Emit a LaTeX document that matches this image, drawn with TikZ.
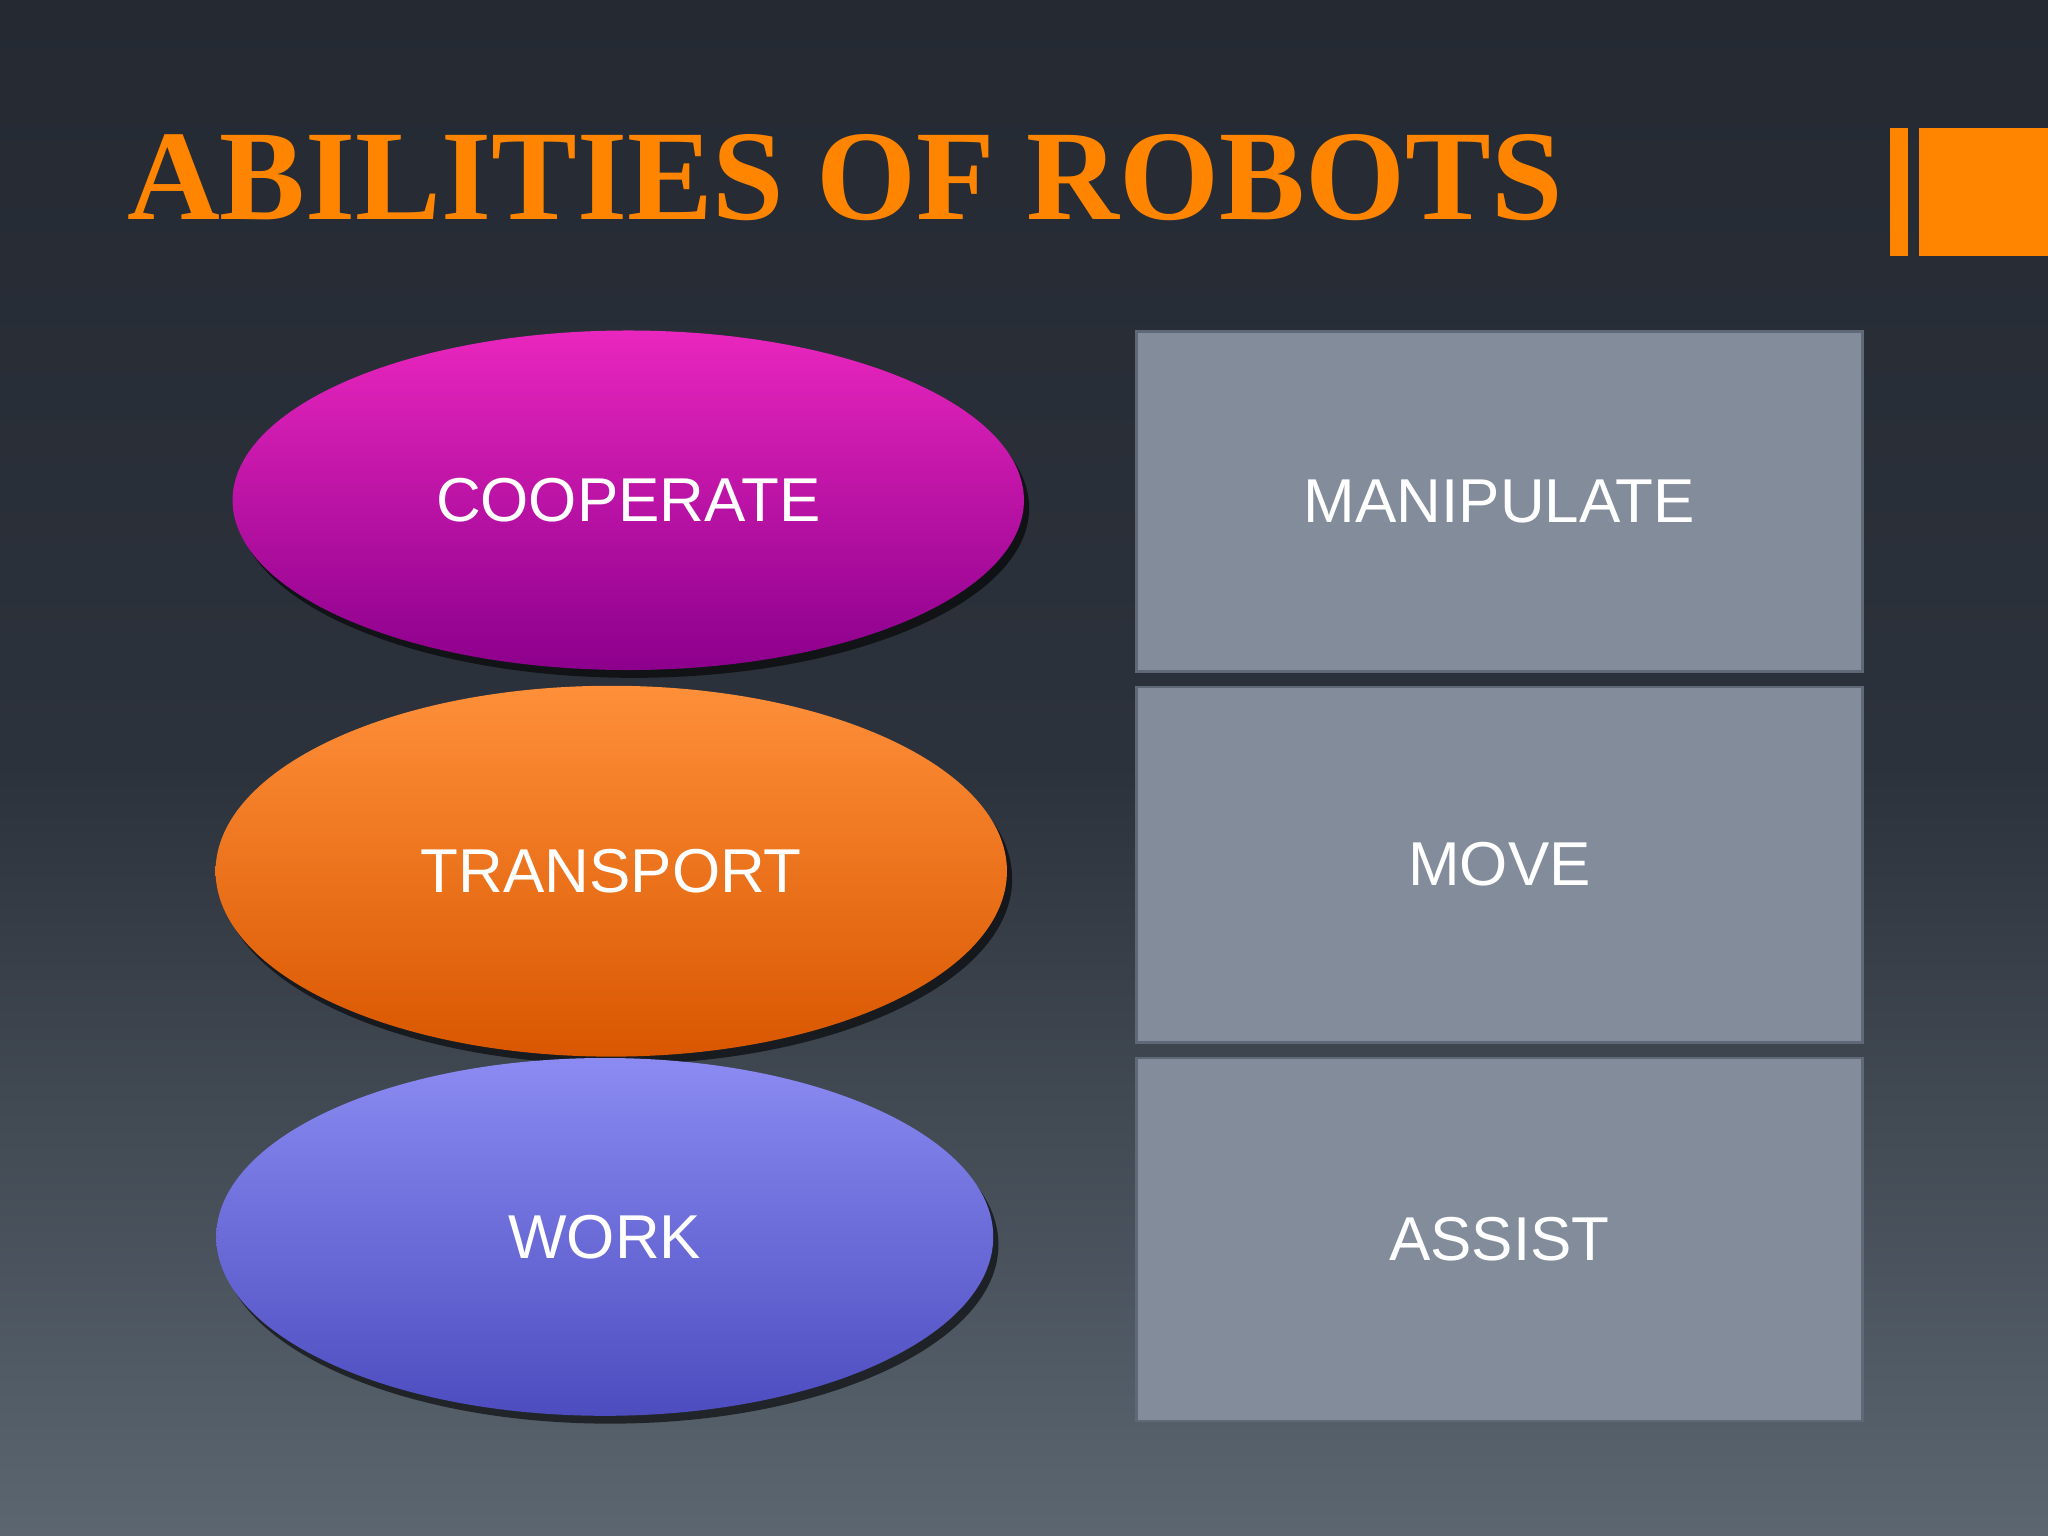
\documentclass[tikz,border=0pt]{standalone}
\usepackage{fontspec}
\setmainfont{Liberation Serif}
\newfontfamily\lsans{Liberation Sans}
\usetikzlibrary{shapes.geometric,shadows}
\definecolor{bgtop}{HTML}{242932}
\definecolor{bgbot}{HTML}{5B6670}
\definecolor{orng}{HTML}{FF8400}
\definecolor{boxf}{HTML}{838C9A}
\definecolor{boxd}{HTML}{5F6876}
\tikzset{
 ell/.style={ellipse,draw=none,minimum width=#1,text=white,font=\lsans\fontsize{27}{30}\selectfont,
  drop shadow={shadow xshift=0.08cm,shadow yshift=-0.12cm,fill=black,opacity=0.6}},
 abox/.style={rectangle,draw=boxd,line width=1.2pt,fill=boxf,minimum width=11.12cm,text=white,font=\lsans\fontsize{27}{30}\selectfont}
}
\begin{document}
\begin{tikzpicture}[x=0.02cm,y=-0.02cm]
\useasboundingbox (0,0) rectangle (1568,1176);
\shade[top color=bgtop,bottom color=bgbot,middle color=bgtop!85!bgbot] (0,0) rectangle (1568,1176);
\node[anchor=base west,inner sep=0,text=orng,font=\bfseries\fontsize{56}{60}\selectfont] (title) at (97,168) {ABILITIES OF ROBOTS};
\fill[orng] (1447,98) rectangle (1461,196);
\fill[orng] (1469,98) rectangle (1568,196);
\node[ell=12.12cm,minimum height=5.2cm,top color=purple!40!magenta!85!white,bottom color=magenta!55!black,shading angle=0] (coop) at (481,383) {COOPERATE};
\node[ell=12.12cm,minimum height=5.68cm,top color=orange!75!white!90!red,bottom color=orange!80!red!85!black] (trans) at (468,667) {TRANSPORT};
\node[ell=11.9cm,minimum height=5.48cm,top color=blue!45!white!90!gray,bottom color=blue!60!white!75!black] (work) at (463,947) {WORK};
\node[abox,minimum height=5.2cm] (manip) at (1148,384) {MANIPULATE};
\node[abox,minimum height=5.44cm] (move) at (1148,662) {MOVE};
\node[abox,minimum height=5.56cm] (assist) at (1148,949) {ASSIST};
\end{tikzpicture}
\end{document}
